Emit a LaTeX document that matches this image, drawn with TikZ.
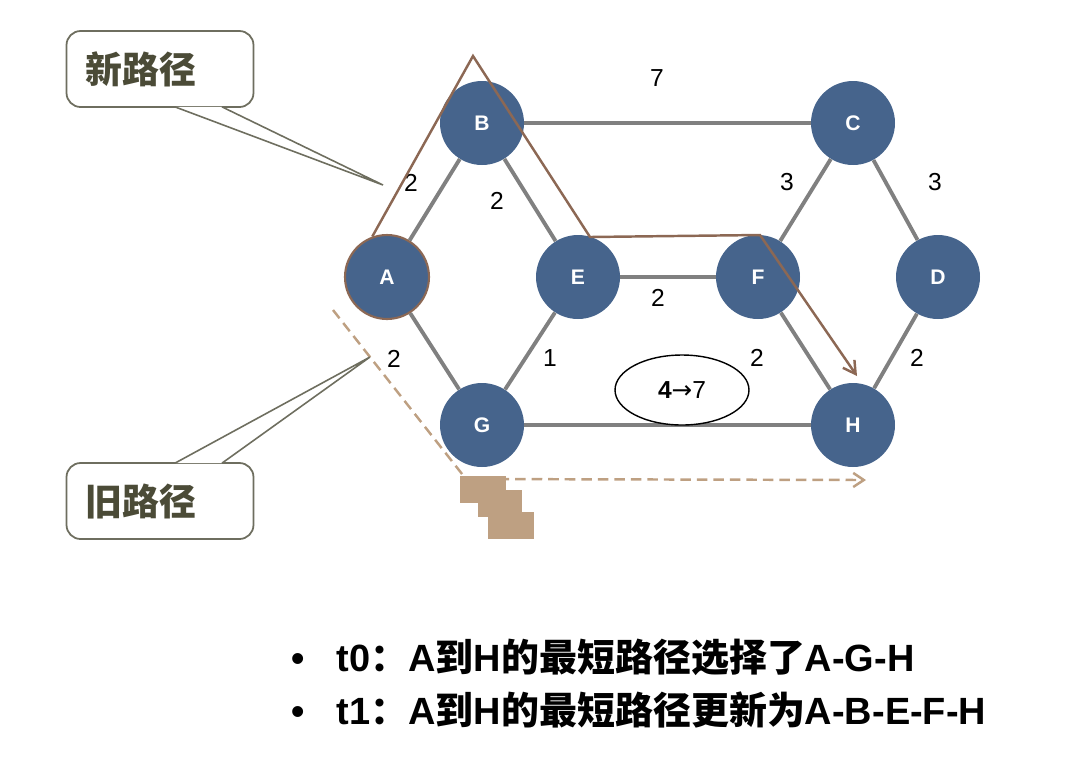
\documentclass[tikz,border=0pt]{standalone}
\usepackage{fontspec}
\setmainfont{Liberation Sans}
\newfontfamily\cjk{Noto Sans CJK SC}
\newfontfamily\sym{DejaVu Sans}
\usetikzlibrary{shapes.geometric,arrows.meta,calc}

\definecolor{nodeblue}{RGB}{70,100,140}
\definecolor{edgegray}{RGB}{128,128,128}
\definecolor{newbrown}{RGB}{140,104,84}
\definecolor{oldtan}{RGB}{190,160,130}
\definecolor{calloutline}{RGB}{110,110,95}
\definecolor{callouttext}{RGB}{75,75,55}

\tikzset{
  router/.style={circle, fill=nodeblue, minimum size=1.68cm, inner sep=0pt,
    text=white, font=\fontsize{12}{14}\selectfont\bfseries},
  link/.style={draw=edgegray, line width=2.2pt},
  cost/.style={font=\fontsize{14}{16}\selectfont},
  newpath/.style={draw=newbrown, line width=1.4pt},
  oldpath/.style={draw=oldtan, line width=1.4pt, dash pattern=on 6pt off 3.4pt},
  calloutbox/.style={draw=calloutline, line width=1pt, rounded corners=8pt,
    fill=white, minimum width=3.74cm, minimum height=1.52cm, text width=2.98cm,
    inner xsep=0.38cm, align=left, text=callouttext,
    font=\fontsize{21}{25}\selectfont\cjk\bfseries},
  pointer/.style={draw=calloutline, line width=0.9pt, fill=white},
  bulletline/.style={anchor=west, inner sep=0pt, font=\fontsize{21.6}{26}\selectfont\bfseries},
}

\begin{document}
\begin{tikzpicture}[x=0.02cm, y=-0.02cm]
    \useasboundingbox (0,0) rectangle (1082,762);

    % routers
    \node[router, draw=newbrown, line width=1.2pt] (A) at (387,277) {A};
    \node[router] (B) at (482,123) {B};
    \node[router] (C) at (853,123) {C};
    \node[router] (D) at (938,277) {D};
    \node[router] (E) at (578,277) {E};
    \node[router] (F) at (758,277) {F};
    \node[router] (G) at (482,425) {G};
    \node[router] (H) at (853,425) {H};

    % links
    \draw[link] (A) -- (B);
    \draw[link] (B) -- (E);
    \draw[link] (A) -- (G);
    \draw[link] (G) -- (E);
    \draw[link] (E) -- (F);
    \draw[link] (B) -- (C);
    \draw[link] (C) -- (F);
    \draw[link] (C) -- (D);
    \draw[link] (F) -- (H);
    \draw[link] (D) -- (H);
    \draw[link] (G) -- (H);

    % costs
    \node[cost] (cBC) at (657,78) {7};
    \node[cost] (cAB) at (411,183) {2};
    \node[cost] (cBE) at (497,201) {2};
    \node[cost] (cCF) at (787,182) {3};
    \node[cost] (cCD) at (935,182) {3};
    \node[cost] (cEF) at (658,298) {2};
    \node[cost] (cAG) at (394,359) {2};
    \node[cost] (cGE) at (550,358) {1};
    \node[cost] (cFH) at (757,358) {2};
    \node[cost] (cDH) at (917,358) {2};

    \node[ellipse, draw, line width=0.8pt, fill=white, minimum width=2.68cm,
      minimum height=1.4cm, inner sep=0pt, font=\fontsize{14}{16}\selectfont]
      (cGH) at (682,390) {\textbf{4}{\sym →}7};

    % new path A-B-E-F-H
    \coordinate (apex) at (473,56);
    \coordinate (turnE) at (590,237);
    \coordinate (turnF) at (760,235);
    \coordinate (endH) at (857,376);
    \draw[newpath, -{Straight Barb[length=7pt, width=8pt]}]
      (A.110) -- (apex) -- (turnE) -- (turnF) -- (endH);

    % old path A-G-H
    \coordinate (oldstart) at (333,310);
    \coordinate (oldturn) at (466,479);
    \coordinate (oldend) at (866,480);
    \draw[oldpath, -{Straight Barb[length=6pt, width=8pt]}]
      (oldstart) -- (oldturn) -- (oldend);
    \fill[oldtan] (460,476) rectangle (506,503);
    \fill[oldtan] (478,490) rectangle (522,517);
    \fill[oldtan] (488,512) rectangle (534,539);

    % callouts
    \node[calloutbox] (newbox) at (160,69) {新路径};
    \coordinate (newtip) at (383,185);
    \filldraw[pointer] ($(newbox.south)+(15,-1)$) -- (newtip) -- ($(newbox.south)+(62,-1)$);

    \node[calloutbox] (oldbox) at (160,501) {旧路径};
    \coordinate (oldtip) at (370,357);
    \filldraw[pointer] ($(oldbox.north)+(15,1)$) -- (oldtip) -- ($(oldbox.north)+(62,1)$);

    % notes
    \node[bulletline] (tzero) at (291,657)
      {•\hspace{0.85em}t0{\cjk ：}A{\cjk 到}H{\cjk 的最短路径选择了}A-G-H};
    \node[bulletline] (tone) at (291,710)
      {•\hspace{0.85em}t1{\cjk ：}A{\cjk 到}H{\cjk 的最短路径更新为}A-B-E-F-H};
\end{tikzpicture}
\end{document}
